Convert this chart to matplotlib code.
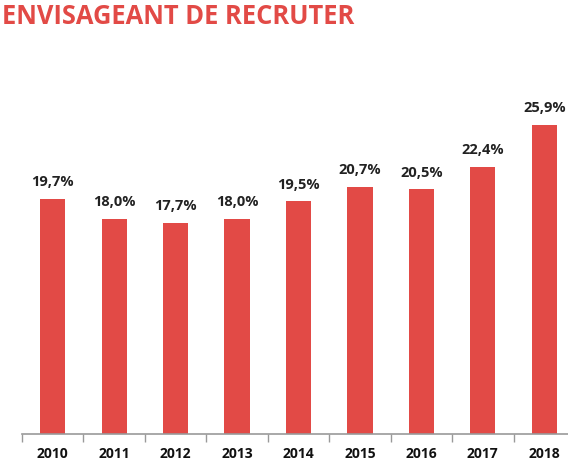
import numpy as np
import matplotlib.pyplot as plt

years = ["2010", "2011", "2012", "2013", "2014", "2015", "2016", "2017", "2018"]
values = [19.7, 18.0, 17.7, 18.0, 19.5, 20.7, 20.5, 22.4, 25.9]
labels = ["19,7%", "18,0%", "17,7%", "18,0%", "19,5%", "20,7%", "20,5%", "22,4%", "25,9%"]

red = "#E24A46"

plt.rcParams['font.family'] = ['Open Sans', 'DejaVu Sans']

fig = plt.figure(figsize=(5.68, 4.61), dpi=100)
ax = fig.add_axes([22 / 568, 27 / 461, 553 / 568, 358 / 461])

x = np.arange(len(years))
ax.bar(x, values, width=0.41, color=red)

for xi, v, lab in zip(x, values, labels):
    ax.annotate(lab, (xi, v), xytext=(0, 7), textcoords="offset points",
                ha="center", va="bottom", fontsize=10.5, fontweight="bold", color="#222222")

ax.set_xlim(-0.5, len(years) - 0.5)
ax.set_ylim(0, 30)

# ticks at the category boundaries, labels at the centres
ax.set_xticks(np.arange(-0.5, len(years), 1.0))
ax.set_xticklabels([])
ax.set_xticks(x, minor=True)
ax.set_xticklabels(years, minor=True, fontsize=10, fontweight="bold", color="#111111")
ax.tick_params(axis="x", which="major", length=6, width=1, color="#999999")
ax.tick_params(axis="x", which="minor", length=0, pad=9)
ax.set_yticks([])

for s in ["top", "right", "left"]:
    ax.spines[s].set_visible(False)
ax.spines["bottom"].set_color("#999999")
ax.spines["bottom"].set_linewidth(1.2)

fig.text(2 / 568, 1 - 16 / 461, "ENVISAGEANT DE RECRUTER", ha="left", va="center",
         fontsize=18.4, fontweight="bold", color=red)

fig.savefig("out.png", dpi=100)
